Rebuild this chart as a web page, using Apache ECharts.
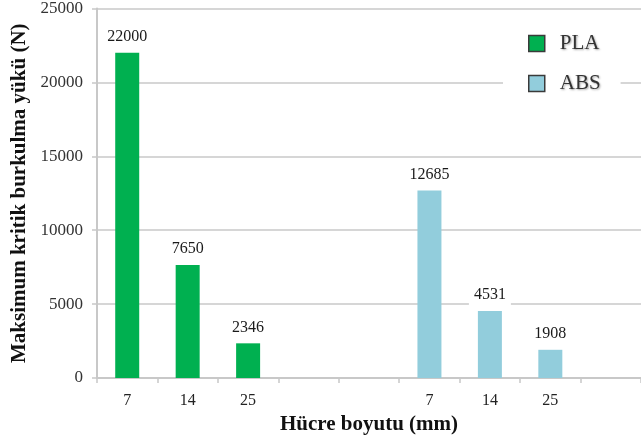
<!DOCTYPE html>
<html>
<head>
<meta charset="utf-8">
<script src="https://cdn.jsdelivr.net/npm/echarts@6/dist/echarts.min.js"></script>
<style>
  html, body { margin: 0; padding: 0; background: #fff; }
  #chart { width: 641px; height: 445px; }
</style>
</head>
<body>
<div id="chart"></div>
<script>
// Cell sizes on the x axis; blank slots separate the two material groups
const cellSizes = ['7', '14', '25', '', '', '7', '14', '25', ''];
// Maximum critical buckling load (N) per material
const plaLoads = [22000, 7650, 2346, null, null, null, null, null, null];
const absLoads = [null, null, null, null, null, 12685, 4531, 1908, null];
const yTicks = { min: 0, max: 25000, interval: 5000 };

const serif = '"Liberation Serif", "Times New Roman", serif';

const chart = echarts.init(document.getElementById('chart'), null, { renderer: 'canvas' });

const valueLabel = {
  show: true,
  position: 'top',
  distance: 6,
  fontFamily: serif,
  fontSize: 16,
  color: '#1a1a1a',
  backgroundColor: '#fff',
  padding: [2, 5]
};

chart.setOption({
  animation: false,
  backgroundColor: '#fff',
  grid: { left: 97, right: -9, top: 8, bottom: 67 },
  legend: {
    orient: 'vertical',
    left: 503,
    top: 28,
    padding: [5, 20, 6, 25],
    backgroundColor: '#fff',
    itemWidth: 16,
    itemHeight: 16,
    itemGap: 19,
    icon: 'rect',
    itemStyle: { borderColor: '#3a3a3a', borderWidth: 1.5 },
    textStyle: {
      fontFamily: serif,
      fontSize: 21,
      color: '#333',
      padding: [0, 0, 0, 10],
      textShadowColor: 'rgba(0,0,0,0.35)',
      textShadowBlur: 2,
      textShadowOffsetX: 1,
      textShadowOffsetY: 1
    },
    data: ['PLA', 'ABS']
  },
  xAxis: {
    type: 'category',
    data: cellSizes,
    name: 'Hücre boyutu (mm)',
    nameLocation: 'middle',
    nameGap: 34,
    nameTextStyle: { fontFamily: serif, fontSize: 21, fontWeight: 'bold', color: '#111' },
    axisLine: { lineStyle: { color: '#c8c8c8', width: 2 } },
    axisTick: { show: true, length: 5, alignWithLabel: false, lineStyle: { color: '#c8c8c8', width: 1.5 } },
    axisLabel: { fontFamily: serif, fontSize: 16, color: '#222', margin: 15, interval: 0 },
    splitLine: { show: false }
  },
  yAxis: {
    type: 'value',
    min: yTicks.min,
    max: yTicks.max,
    interval: yTicks.interval,
    name: 'Maksimum kritik burkulma yükü (N)',
    nameLocation: 'middle',
    nameGap: 58,
    nameTextStyle: { fontFamily: serif, fontSize: 21, fontWeight: 'bold', color: '#111' },
    axisLine: { show: true, lineStyle: { color: '#c8c8c8', width: 2 } },
    axisTick: { show: true, length: 5, lineStyle: { color: '#c8c8c8', width: 1.5 } },
    axisLabel: {
      fontFamily: serif, fontSize: 17, color: '#333', margin: 14,
      formatter: (v) => String(v)
    },
    splitLine: { show: true, lineStyle: { color: '#d6d6d6', width: 2 } }
  },
  series: [
    {
      name: 'PLA',
      type: 'bar',
      data: plaLoads,
      barWidth: 24,
      barGap: '-100%',
      itemStyle: { color: '#00b050' },
      label: valueLabel
    },
    {
      name: 'ABS',
      type: 'bar',
      data: absLoads,
      barWidth: 24,
      itemStyle: { color: '#92cddc' },
      label: valueLabel
    }
  ]
});
</script>
</body>
</html>
